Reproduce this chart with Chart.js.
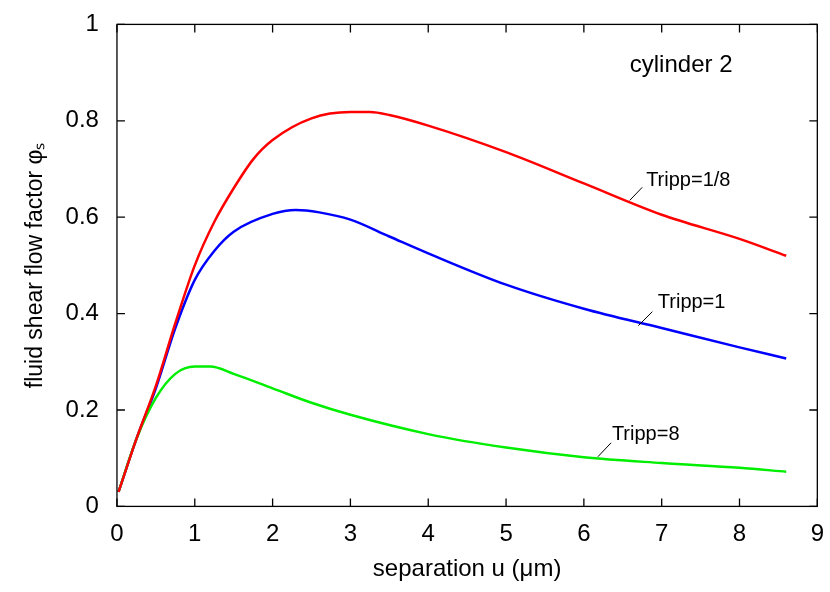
<!DOCTYPE html>
<html><head><meta charset="utf-8">
<script src="https://cdn.jsdelivr.net/npm/chart.js@4"></script>
<style>html,body{margin:0;background:#fff}#wrap{width:830px;height:592px}</style>
</head><body><div id="wrap"><canvas id="c"></canvas></div>
<script>
// separation u (µm) and shear flow factor per Tripp value
const uRed   = [0.02, 0.25, 0.5, 0.75, 1, 1.25, 1.5, 1.75, 2, 2.5, 3, 3.25, 3.5, 4, 5, 6, 7, 8, 8.6];
const tRed   = [0.03, 0.14, 0.25, 0.38, 0.50, 0.59, 0.66, 0.72, 0.76, 0.805, 0.818, 0.818, 0.812, 0.79, 0.735, 0.67, 0.605, 0.555, 0.52];
const uBlue  = [0.02, 0.25, 0.5, 0.75, 1, 1.25, 1.5, 2, 2.3, 2.6, 3, 3.5, 4, 5, 6, 7, 8, 8.6];
const tBlue  = [0.03, 0.14, 0.245, 0.37, 0.47, 0.53, 0.57, 0.607, 0.615, 0.61, 0.595, 0.56, 0.525, 0.46, 0.41, 0.37, 0.33, 0.307];
const uGreen = [0.02, 0.25, 0.5, 0.75, 1, 1.2, 1.5, 2, 2.5, 3, 4, 5, 6, 7, 8, 8.6];
const tGreen = [0.03, 0.14, 0.225, 0.275, 0.29, 0.29, 0.275, 0.245, 0.215, 0.19, 0.15, 0.122, 0.102, 0.09, 0.08, 0.072];
const xTicks = [0, 1, 2, 3, 4, 5, 6, 7, 8, 9];
const yTicks = [0, 0.2, 0.4, 0.6, 0.8, 1];

const toPts = (xs, ys) => xs.map((x, i) => ({ x, y: ys[i] }));
const FONT = 'Liberation Sans, Arial, sans-serif';

const labels = [
  { text: 'Tripp=1/8', x: 6.59, y: 0.635, tx: 6.75, ty: 0.662, lx: 6.8,  ly: 0.676 },
  { text: 'Tripp=1',   x: 6.7,  y: 0.375, tx: 6.88, ty: 0.404, lx: 6.95, ly: 0.423 },
  { text: 'Tripp=8',   x: 6.18, y: 0.103, tx: 6.35, ty: 0.132, lx: 6.36, ly: 0.15 }
];

const framePlugin = {
  id: 'frame',
  afterDraw(chart) {
    const { ctx, chartArea: a, scales: { x, y } } = chart;
    ctx.save();
    ctx.strokeStyle = '#000';
    ctx.lineWidth = 1.3;
    ctx.strokeRect(a.left, a.top, a.right - a.left, a.bottom - a.top);
    ctx.beginPath();
    xTicks.forEach(v => {
      const px = x.getPixelForValue(v);
      ctx.moveTo(px, a.bottom); ctx.lineTo(px, a.bottom - 8);
      ctx.moveTo(px, a.top); ctx.lineTo(px, a.top + 8);
    });
    yTicks.forEach(v => {
      const py = y.getPixelForValue(v);
      ctx.moveTo(a.left, py); ctx.lineTo(a.left + 8, py);
      ctx.moveTo(a.right, py); ctx.lineTo(a.right - 8, py);
    });
    ctx.stroke();
    ctx.fillStyle = '#000';
    ctx.font = '24px ' + FONT;
    ctx.textAlign = 'center';
    ctx.textBaseline = 'middle';
    ctx.fillText('cylinder 2', x.getPixelForValue(7.25), y.getPixelForValue(0.915));
    ctx.font = '20px ' + FONT;
    ctx.textAlign = 'left';
    ctx.lineWidth = 1;
    labels.forEach(l => {
      ctx.beginPath();
      ctx.moveTo(x.getPixelForValue(l.x), y.getPixelForValue(l.y));
      ctx.lineTo(x.getPixelForValue(l.tx), y.getPixelForValue(l.ty));
      ctx.stroke();
      ctx.fillText(l.text, x.getPixelForValue(l.lx), y.getPixelForValue(l.ly));
    });
    ctx.restore();
  }
};

const ds = (pts, color) => ({ data: pts, borderColor: color, borderWidth: 2.5, pointRadius: 0, cubicInterpolationMode: 'monotone', fill: false });

new Chart(document.getElementById('c'), {
  type: 'line',
  data: { datasets: [
    ds(toPts(uRed, tRed), '#ff0000'),
    ds(toPts(uGreen, tGreen), '#00ee00'),
    ds(toPts(uBlue, tBlue), '#0000ff')
  ] },
  options: {
    responsive: true, maintainAspectRatio: false, animation: false,
    layout: { padding: { top: 8, right: 8, left: 18, bottom: 6 } },
    plugins: { legend: { display: false }, tooltip: { enabled: false } },
    scales: {
      x: {
        type: 'linear', min: 0, max: 9,
        afterBuildTicks: s => { s.ticks = xTicks.map(v => ({ value: v })); },
        grid: { display: false }, border: { display: false },
        ticks: { color: '#000', font: { family: FONT, size: 24 }, padding: 6 },
        title: { display: true, text: 'separation u (\u03bcm)', color: '#000', font: { family: FONT, size: 24 }, padding: { top: 0, bottom: 2 } }
      },
      y: {
        min: 0, max: 1,
        afterBuildTicks: s => { s.ticks = yTicks.map(v => ({ value: v })); },
        grid: { display: false }, border: { display: false },
        ticks: { color: '#000', font: { family: FONT, size: 24 }, padding: 10, callback: v => v === 1 ? '1' : (v === 0 ? '0' : v.toFixed(1)) },
        title: { display: true, text: 'fluid shear flow factor \u03c6\u209b', color: '#000', font: { family: FONT, size: 23 }, padding: { bottom: 6 } }
      }
    }
  },
  plugins: [framePlugin]
});
</script></body></html>
